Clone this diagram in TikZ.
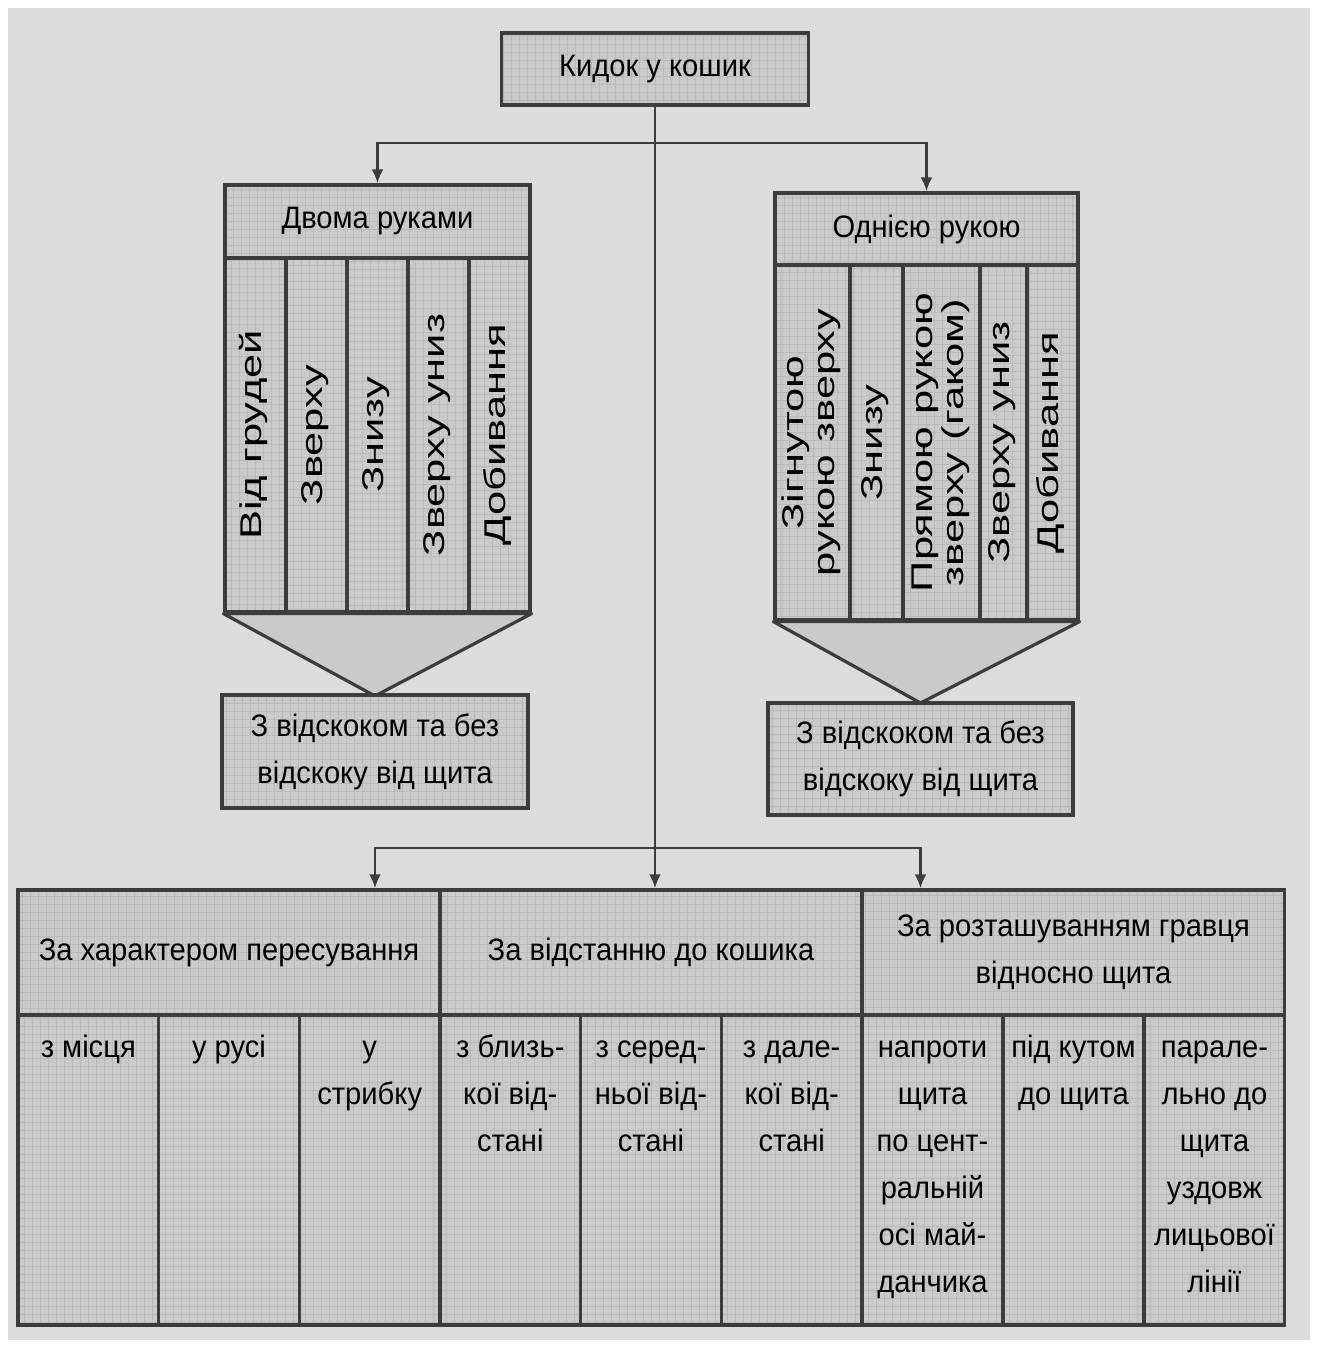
\documentclass[tikz,border=0pt]{standalone}
\usepackage{fontspec}
\setmainfont{Liberation Sans}
\newfontfamily\hfam{Liberation Sans}[FakeStretch=0.94]
\newfontfamily\vfam{Liberation Sans}[FakeStretch=1.45]
\usetikzlibrary{arrows.meta}
\definecolor{panelc}{HTML}{DCDCDC}
\definecolor{boxc}{HTML}{CACACA}
\definecolor{gridc}{HTML}{BABABA}
\definecolor{linec}{HTML}{3C3C3C}
\newcommand\hfont{\hfam\fontsize{15.5}{23.5}\selectfont}
\newcommand\vfont{\vfam\fontsize{15}{15.5}\selectfont}
\newcommand\vtext[1]{\rotatebox{90}{\begin{tabular}{@{}c@{}}#1\end{tabular}}}
\newcommand\topstrut{\rule{0pt}{12pt}}
\tikzset{
  box/.style={draw=linec, line width=1.6pt, fill=boxc, inner sep=2pt, align=center, font=\hfont,
    path picture={\draw[gridc, line width=0.3pt, step=4pt]
      (path picture bounding box.south west) grid (path picture bounding box.north east);}},
  colbox/.style={box, font=\vfont, minimum width=#1, minimum height=177pt},
  cellbox/.style={box, minimum width=70.3pt, minimum height=155pt},
  celltext/.style={anchor=north, align=center, font=\hfont, inner sep=0pt},
  funnel/.style={draw=linec, line width=1.6pt, fill=boxc, line join=round},
  link/.style={draw=linec, line width=1.4pt},
  arr/.style={link, -{Latex[length=7pt,width=6pt]}}
}
\begin{document}
\begin{tikzpicture}[x=0.5pt,y=-0.5pt]
\useasboundingbox (0,0) rectangle (1318,1346);
\fill[white] (0,0) rectangle (1318,1346);
\fill[panelc] (8,8) rectangle (1310,1340);
% top
\node[box, minimum width=153.5pt, minimum height=36pt] (kydok) at (655,69) {Кидок у кошик};
% two hands
\node[box, minimum width=152.5pt, minimum height=36.5pt] (dvoma) at (377.5,221.5) {Двома руками};
\foreach \t [count=\i] in {Від грудей, Зверху, Знизу, Зверху униз, Добивання}
  \node[colbox=30.5pt] (l\i) at ({255.5+61*(\i-1)},435) {\vtext{\t}};
\draw[funnel] (l1.south west) -- (l5.south east) -- (375,696) -- cycle;
\node[box, minimum width=153pt, minimum height=56.5pt] (dvomaz) at (375,751.5) {З відскоком та без\\відскоку від щита};
% one hand
\node[box, minimum width=151.5pt, minimum height=36pt] (odna) at (926.5,229) {Однією рукою};
\foreach \cx/\cw/\t [count=\i] in {812.5/37.5pt/{Зігнутою\\рукою зверху}, 876.5/26.5pt/{Знизу},
    941.5/38.5pt/{Прямою рукою\\зверху (гаком)}, 1003.5/23.5pt/{Зверху униз}, 1052.5/25.5pt/{Добивання}}
  \node[colbox=\cw, minimum height=177.5pt] (r\i) at (\cx,442.5) {\vtext{\t}};
\draw[funnel] (r1.south west) -- (r5.south east) -- (920.5,703) -- cycle;
\node[box, minimum width=152.5pt, minimum height=56pt] (odnaz) at (920.5,759) {З відскоком та без\\відскоку від щита};
% table
\foreach \hx/\t [count=\i] in {229/{За характером пересування}, 651/{За відстанню до кошика},
    1073.5/{За розташуванням гравця\\відносно щита}}
  \node[box, minimum width=211pt, minimum height=62.5pt] (h\i) at (\hx,952.5) {\t};
\foreach \cx/\t [count=\i] in {88.3/{з місця}, 229/{у русі}, 369.7/{у\\стрибку},
    510.3/{з близь-\\кої від-\\стані}, 651/{з серед-\\ньої від-\\стані}, 791.7/{з дале-\\кої від-\\стані},
    932.5/{напроти\\щита\\по цент-\\ральній\\осі май-\\данчика}, 1073.5/{під кутом\\до щита},
    1214.5/{парале-\\льно до\\щита\\уздовж\\лицьової\\лінії}} {
  \node[cellbox] (c\i) at (\cx,1170) {};
  \node[celltext] at ([yshift=-10pt]c\i.north) {\topstrut\t};
}
% connectors
\coordinate (j1) at (655,143);
\coordinate (j2) at (655,848);
\draw[arr] (kydok.south) -- (kydok.south |- h2.north);
\draw[arr] (j1) -| (dvoma.north);
\draw[arr] (j1) -| (odna.north);
\draw[arr] (j2) -| (h1.north -| dvomaz.south);
\draw[arr] (j2) -| (h3.north -| odnaz.south);
\end{tikzpicture}
\end{document}
